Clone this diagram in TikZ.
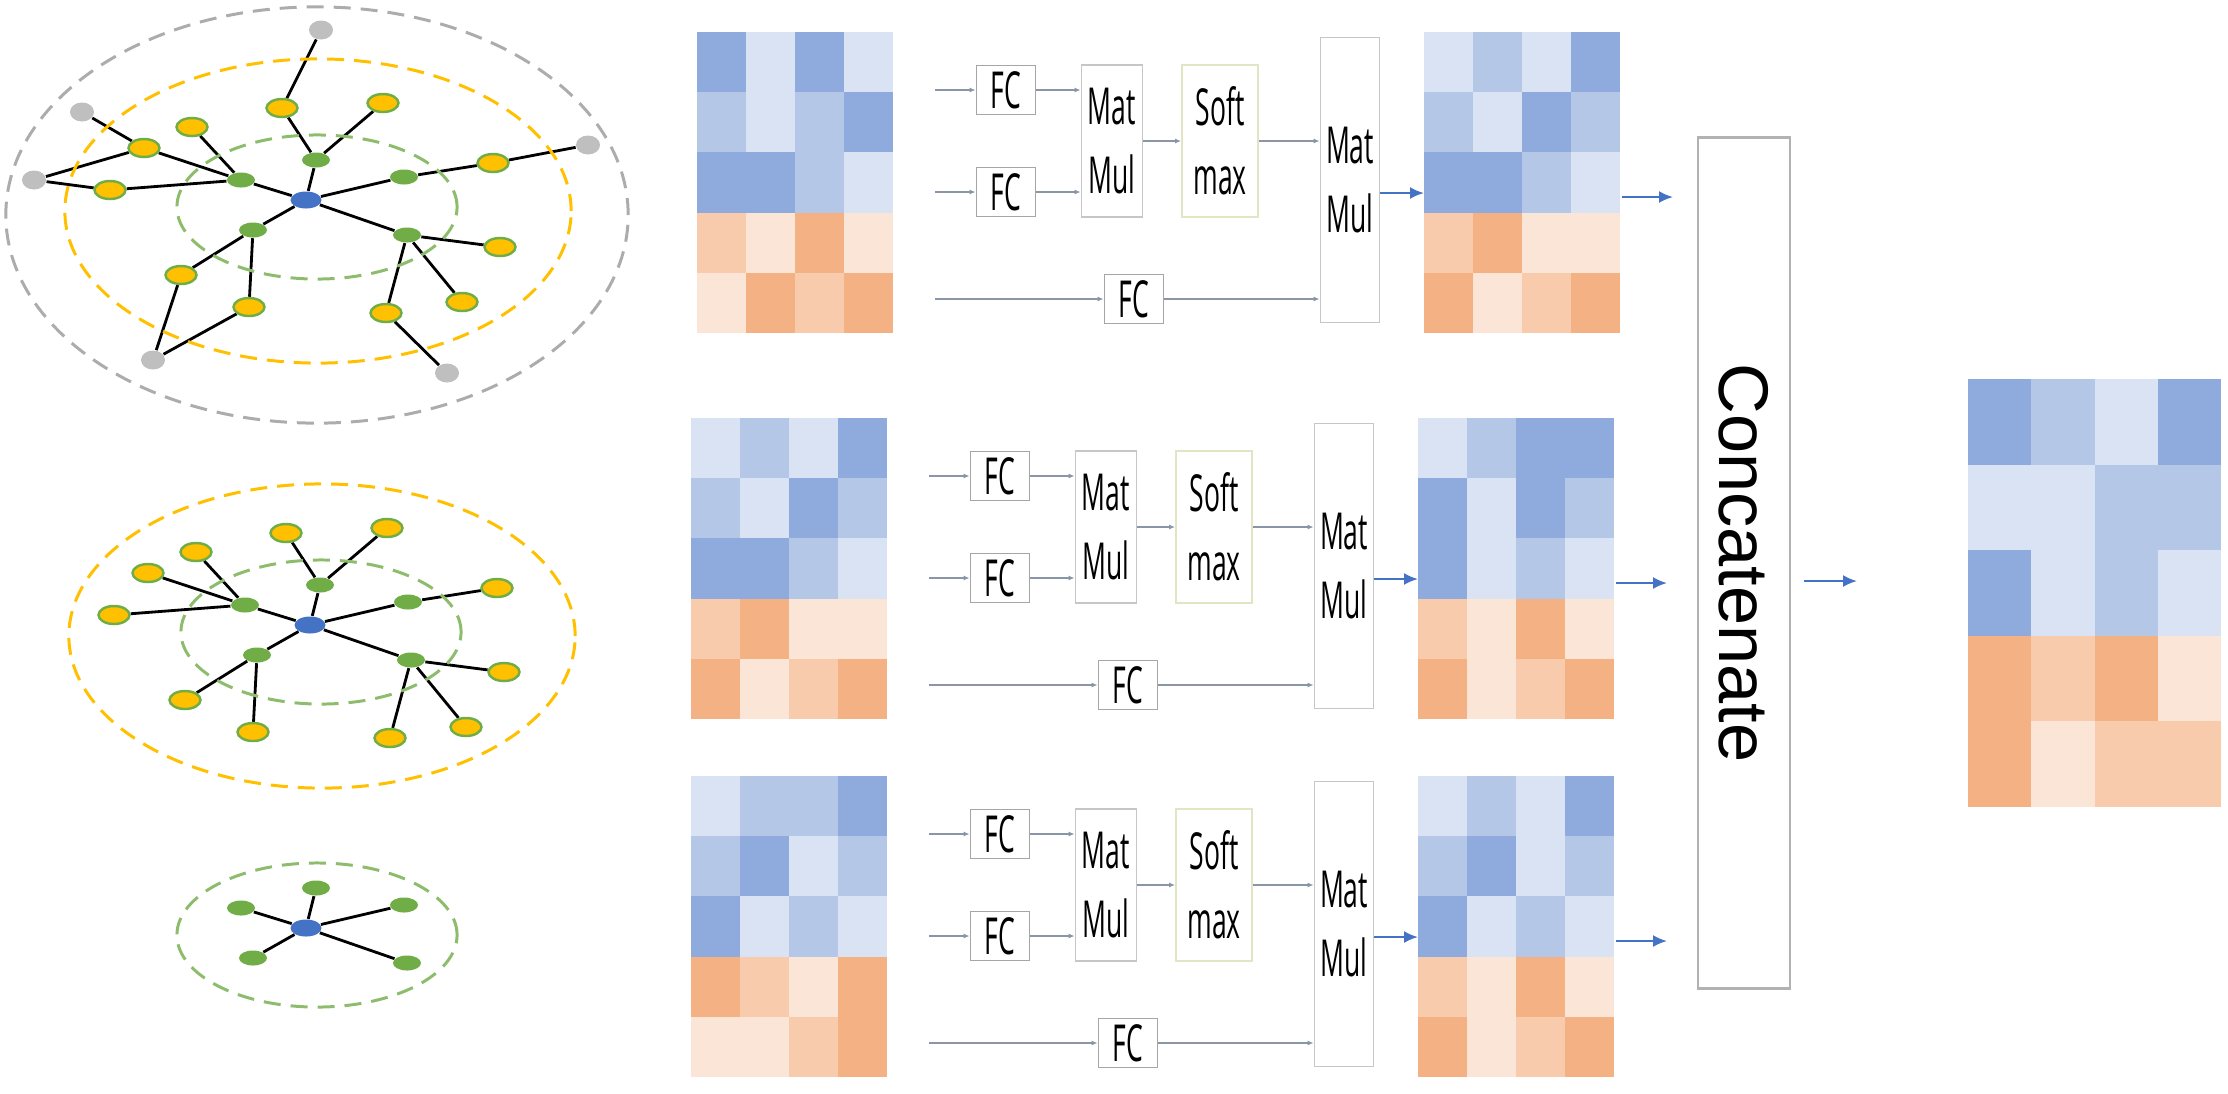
\documentclass[tikz,border=0pt]{standalone}
\usepackage{fontspec}
\usepackage{graphicx}
\usepackage{tikz}
\usetikzlibrary{shapes.geometric}
\usetikzlibrary{arrows.meta}
\usetikzlibrary{backgrounds}
\usepackage{xcolor}

\newfontfamily\boxfont[FakeStretch=0.52]{Open Sans}
\newfontfamily\catfont{Liberation Sans}

\definecolor{hm1}{HTML}{DAE3F3}
\definecolor{hm2}{HTML}{B4C7E7}
\definecolor{hm3}{HTML}{8FAADC}
\definecolor{hm4}{HTML}{FBE5D6}
\definecolor{hm5}{HTML}{F8CBAD}
\definecolor{hm6}{HTML}{F4B183}
\definecolor{nblue}{HTML}{4472C4}
\definecolor{ngreen}{HTML}{70AD47}
\definecolor{nyellow}{HTML}{FFC000}
\definecolor{ngray}{HTML}{BFBFBF}
\definecolor{arrgray}{HTML}{8A96A8}
\definecolor{softline}{HTML}{E2E5C4}

% heat map: top left corner, cell width, cell height, rows of colour codes
\newcommand{\heatmap}[5]{
  \foreach \cells [count=\hr] in {#5} {
    \foreach \c [count=\hc] in \cells {
      \fill[fill=hm\c] ({#1+(\hc-1)*#3},{#2+(\hr-1)*#4}) rectangle ++({#3+0.4},{#4+0.4});
    }
  }
}

\begin{document}
\begin{tikzpicture}[x=0.01cm,y=-0.01cm,
  ctr/.style={ellipse,fill=nblue,minimum width=0.31cm,minimum height=0.17cm,inner sep=0pt},
  hopa/.style={ellipse,fill=ngreen,minimum width=0.28cm,minimum height=0.15cm,inner sep=0pt},
  hopb/.style={ellipse,fill=nyellow,draw=ngreen,line width=0.7pt,minimum width=0.31cm,minimum height=0.18cm,inner sep=0pt},
  hopc/.style={ellipse,fill=ngray,minimum width=0.24cm,minimum height=0.19cm,inner sep=0pt},
  link/.style={line width=0.8pt},
  ring/.style={dash pattern=on 0.17cm off 0.1cm,line width=0.85pt},
  fcbox/.style={draw=gray!70,line width=0.5pt,minimum width=0.59cm,minimum height=0.49cm,inner sep=0pt,font=\boxfont\fontsize{14.5}{19.6}\selectfont},
  opbox/.style={draw=gray!45,line width=0.5pt,minimum height=1.52cm,inner sep=0pt,align=center,font=\boxfont\fontsize{14.5}{19.6}\selectfont},
  matbox/.style={anchor=north west,inner sep=0pt,minimum width=1.96cm,minimum height=3.01cm},
  flow/.style={draw=arrgray,line width=0.45pt,-{Latex[length=0.06cm,width=0.05cm]}},
  barrow/.style={draw=nblue,line width=0.6pt,-{Latex[length=0.14cm,width=0.12cm]}}
]
\useasboundingbox (0,0) rectangle (2228,1093);

% neighbourhood graphs: one hop
\foreach \g/\sx/\sy in {a/0/0,b/4/425,c/0/728} {
  \begin{scope}[shift={(\sx,\sy)}]
    \draw[ring,draw=ngreen!80] (317,207) ellipse (1.40cm and 0.72cm);
    \node[ctr] (\g-0) at (306,200) {};
    \foreach \n/\x/\y in {T/316/160,L/241/180,R/404/177,BL/253/230,BR/407/235}
      \node[hopa] (\g-\n) at (\x,\y) {};
    \begin{scope}[on background layer]
      \foreach \n in {T,L,R,BL,BR} \draw[link] (\g-0) -- (\g-\n);
    \end{scope}
  \end{scope}
}

% two hops
\foreach \g/\sx/\sy in {a/0/0,b/4/425} {
  \begin{scope}[shift={(\sx,\sy)}]
    \draw[ring,draw=nyellow] (318,211) ellipse (2.53cm and 1.52cm);
    \foreach \n/\x/\y in {1/282/108,2/383/103,3/192/127,4/144/148,5/110/190,6/493/163,7/500/247,8/462/302,9/386/313,10/249/307,11/181/275}
      \node[hopb] (\g-y\n) at (\x,\y) {};
    \begin{scope}[on background layer]
      \foreach \u/\v in {T/1,T/2,L/3,L/4,L/5,R/6,BR/7,BR/8,BR/9,BL/10,BL/11}
        \draw[link] (\g-\u) -- (\g-y\v);
    \end{scope}
  \end{scope}
}

% three hops
\draw[ring,draw=ngray!90!black] (317,215) ellipse (3.11cm and 2.08cm);
\foreach \n/\x/\y in {1/321/30,2/82/112,3/34/180,4/588/145,5/153/360,6/447/373}
  \node[hopc] (a-g\n) at (\x,\y) {};
\begin{scope}[on background layer]
  \foreach \u/\v in {1/1,4/2,4/3,5/3,6/4,11/5,10/5,9/6}
    \draw[link] (a-y\u) -- (a-g\v);
\end{scope}

% heat maps
\heatmap{697}{32}{49}{60.2}{{3,1,3,1},{2,1,2,3},{3,3,2,1},{5,4,6,4},{4,6,5,6}}
\heatmap{1424}{32}{49}{60.2}{{1,2,1,3},{2,1,3,2},{3,3,2,1},{5,6,4,4},{6,4,5,6}}
\heatmap{691}{418}{49}{60.2}{{1,2,1,3},{2,1,3,2},{3,3,2,1},{5,6,4,4},{6,4,5,6}}
\heatmap{1418}{418}{49}{60.2}{{1,2,3,3},{3,1,3,2},{3,1,2,1},{5,4,6,4},{6,4,5,6}}
\heatmap{691}{776}{49}{60.2}{{1,2,2,3},{2,3,1,2},{3,1,2,1},{6,5,4,6},{4,4,5,6}}
\heatmap{1418}{776}{49}{60.2}{{1,2,1,3},{2,3,1,2},{3,1,2,1},{5,4,6,4},{6,4,5,6}}
\heatmap{1968}{379}{63.25}{85.6}{{3,2,1,3},{1,1,2,2},{3,1,2,1},{6,5,6,4},{6,4,5,5}}

% attention heads
\foreach \r/\dx/\dy in {1/0/0,2/-6/386,3/-6/744} {
  \begin{scope}[shift={(\dx,\dy)}]
    \node[matbox] (out\r) at (1424,32) {};
    \node[fcbox] (fcq\r) at (1006,90) {FC};
    \node[fcbox] (fck\r) at (1006,192) {FC};
    \node[fcbox] (fcv\r) at (1134,299) {FC};
    \node[opbox,minimum width=0.61cm] (mm\r) at (1112,141) {Mat\\Mul};
    \node[opbox,minimum width=0.76cm,draw=softline] (sm\r) at (1220,141) {Soft\\max};
    \node[opbox,minimum width=0.59cm,minimum height=2.85cm] (mmv\r) at (1350,180) {Mat\\Mul};
    \coordinate (inq\r) at (935,90);
    \coordinate (ink\r) at (935,192);
    \coordinate (inv\r) at (935,299);
    \coordinate (cat\r) at (1673,197);
    \draw[flow] (inq\r) -- (fcq\r);
    \draw[flow] (ink\r) -- (fck\r);
    \draw[flow] (inv\r) -- (fcv\r);
    \draw[flow] (fcq\r.east) -- (fcq\r.east -| mm\r.west);
    \draw[flow] (fck\r.east) -- (fck\r.east -| mm\r.west);
    \draw[flow] (mm\r) -- (sm\r);
    \draw[flow] (sm\r.east) -- (sm\r.east -| mmv\r.west);
    \draw[flow] (fcv\r.east) -- (fcv\r.east -| mmv\r.west);
    \draw[barrow] (mmv\r.east |- 0,193) -- (out\r.west |- 0,193);
    \draw[barrow] (out\r.east |- cat\r) -- (cat\r);
  \end{scope}
}

\node[draw=gray!60,line width=0.8pt,minimum width=0.92cm,minimum height=8.5cm,inner sep=0pt,
  font=\catfont\fontsize{20}{24}\selectfont] (concat) at (1744,563) {\rotatebox{-90}{Concatenate}};
\coordinate (catin) at (1804,581);
\coordinate (catend) at (1857,581);
\draw[barrow] (catin) -- (catend);
\end{tikzpicture}
\end{document}
